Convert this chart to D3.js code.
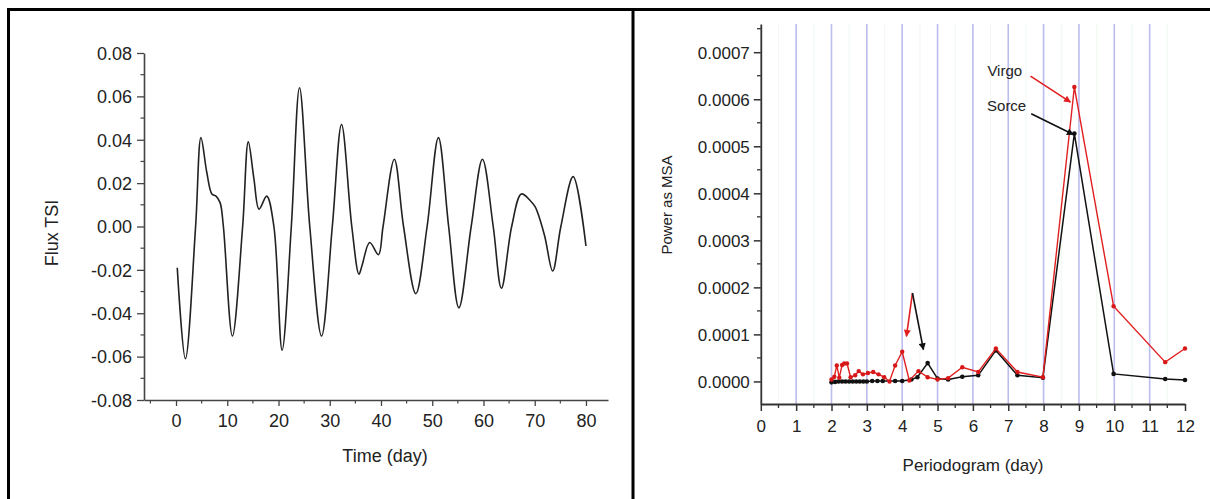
<!DOCTYPE html>
<html><head><meta charset="utf-8">
<script src="https://cdn.jsdelivr.net/npm/d3@7"></script>
<style>
body{margin:0;background:#fff;}
text{font-family:"Liberation Sans",Arial,sans-serif;fill:#222;}
</style></head>
<body>
<svg id="c" width="1210" height="499"></svg>
<script>
// ---- Left panel data: Flux TSI vs Time (day)
const timeDays = [0.24,1.83,3.82,4.86,6.0,7.0,7.8,8.6,9.24,11.0,13.0,14.1,15.2,16.2,17.7,19.1,20.7,22.5,24.1,26.1,28.4,30.5,32.3,34.3,35.7,36.3,37.8,39.5,40.4,42.6,44.4,46.8,49.0,51.2,53.2,55.2,57.6,59.8,61.9,63.5,65.5,67.4,69.1,70.1,71.9,73.5,75.1,77.5,80.0];
const fluxTSI  = [-0.019,-0.061,0.0,0.041,0.025,0.015,0.014,0.011,0.0,-0.0505,0.0,0.039,0.022,0.008,0.014,0.0,-0.057,0.0,0.064,0.0,-0.0505,0.0,0.047,0.0,-0.022,-0.018,-0.0074,-0.013,0.0,0.031,0.0,-0.031,0.0,0.041,0.0,-0.0375,0.0,0.031,0.0,-0.0285,0.0,0.015,0.012,0.009,-0.004,-0.0205,0.0,0.023,-0.009];
const leftXTicks = [0,10,20,30,40,50,60,70,80];
const leftYTicks = [-0.08,-0.06,-0.04,-0.02,0.0,0.02,0.04,0.06,0.08];

// ---- Right panel data: periodogram
const sorcePeriod = [2.0,2.1,2.2,2.3,2.4,2.5,2.6,2.7,2.8,2.9,3.0,3.15,3.3,3.45,3.8,4.0,4.26,4.43,4.72,5.0,5.3,5.7,6.15,6.65,7.26,7.98,8.87,9.98,11.44,12.0];
const sorcePower  = [-0.000002,-0.000001,0,0,0,0,0,0,0,0,0,0.000001,0.000001,0.000001,0.000001,0.000001,0.000004,0.000009,0.000039,0.000006,0.000004,0.00001,0.000013,0.000066,0.000013,0.000008,0.000527,0.000016,0.000005,0.000003];
const virgoPeriod = [2.0,2.08,2.15,2.22,2.3,2.36,2.44,2.54,2.67,2.77,2.89,3.03,3.18,3.33,3.49,3.64,3.8,4.0,4.2,4.46,4.72,5.0,5.3,5.7,6.15,6.65,7.26,7.98,8.87,9.98,11.44,12.0];
const virgoPower  = [0.000004,0.00001,0.000034,0.000008,0.000035,0.000038,0.000038,0.000009,0.000013,0.000022,0.000015,0.000018,0.00002,0.000015,0.000009,0.0,0.000034,0.000063,0.000002,0.000022,0.000009,0.000004,0.000007,0.00003,0.00002,0.00007,0.00002,0.000009,0.000626,0.00016,0.000041,0.00007];
const rightXTicks = [0,1,2,3,4,5,6,7,8,9,10,11,12];
const rightYTicks = [0,0.0001,0.0002,0.0003,0.0004,0.0005,0.0006,0.0007];
const gridMajor = [1,2,3,4,5,6,7,8,9,10,11];
const gridMinor = [0.5,1.5,2.5,3.5,4.5,5.5,6.5,7.5,8.5,9.5,10.5,11.5];

// annotations (data coordinates)
const labelNames = ["Virgo","Sorce"];
const labelPos = [[6.41,0.00065],[6.40,0.000575]];
const arrowFrom = [[7.63,0.000649],[7.65,0.000569],[4.29,0.000188],[4.29,0.000188]];
const arrowTo   = [[8.76,0.000594],[8.84,0.000525],[4.12,0.000096],[4.60,0.0000675]];
const arrowColor = ["#e02020","#111","#e02020","#111"];

const svg = d3.select("#c");
const fmtMinus = f => v => f(v).replace("\u2212","-");

// outer frame
svg.append("line").attr("x1",8).attr("x2",1210).attr("y1",9.5).attr("y2",9.5).attr("stroke","#000").attr("stroke-width",3);
svg.append("line").attr("x1",8.5).attr("x2",8.5).attr("y1",8).attr("y2",499).attr("stroke","#000").attr("stroke-width",3);
svg.append("line").attr("x1",633).attr("x2",633).attr("y1",8).attr("y2",499).attr("stroke","#000").attr("stroke-width",3);

// ================= LEFT =================
const lx = d3.scaleLinear().domain([-6.25,84.3]).range([144,608]);
const ly = d3.scaleLinear().domain([-0.08,0.08]).range([400,53]);
const L = svg.append("g");

const lxMinor = d3.range(-5,85,10);
L.selectAll(".lxm").data(lxMinor).join("line").attr("x1",d=>lx(d)).attr("x2",d=>lx(d)).attr("y1",400).attr("y2",403.5).attr("stroke","#444").attr("stroke-width",1.2);
const lyMinor = d3.range(-0.07,0.08,0.02);
L.selectAll(".lym").data(lyMinor).join("line").attr("x1",144).attr("x2",140.5).attr("y1",d=>ly(d)).attr("y2",d=>ly(d)).attr("stroke","#444").attr("stroke-width",1.2);

const lxAxis = L.append("g").attr("transform","translate(0,400)")
  .call(d3.axisBottom(lx).tickValues(leftXTicks).tickSize(6).tickSizeOuter(0).tickPadding(8));
const lyAxis = L.append("g").attr("transform","translate(144,0)")
  .call(d3.axisLeft(ly).tickValues(leftYTicks).tickFormat(fmtMinus(d3.format(".2f"))).tickSize(7).tickSizeOuter(0).tickPadding(5));
[lxAxis,lyAxis].forEach(a=>{
  a.select(".domain").attr("stroke","#444").attr("stroke-width",1.6);
  a.selectAll(".tick line").attr("stroke","#444").attr("stroke-width",1.3);
  a.selectAll(".tick text").attr("font-size",18).attr("font-family","Liberation Sans").attr("fill","#222");
});
lyAxis.selectAll(".tick text").attr("dy","0.35em");

L.append("path").datum(timeDays.map((t,i)=>[t,fluxTSI[i]]))
  .attr("fill","none").attr("stroke","#222").attr("stroke-width",1.6)
  .attr("d",d3.line().x(d=>lx(d[0])).y(d=>ly(d[1])).curve(d3.curveCatmullRom.alpha(0.5)));

L.append("text").attr("x",385).attr("y",462).attr("text-anchor","middle").attr("font-size",18).text("Time (day)");
L.append("text").attr("transform","translate(58,233) rotate(-90)").attr("text-anchor","middle").attr("font-size",18).text("Flux TSI");

// ================= RIGHT =================
const rx = d3.scaleLinear().domain([0,12]).range([760.8,1185]);
const ry = d3.scaleLinear().domain([-0.000048,0.00076]).range([404,24]);
const R = svg.append("g");

R.selectAll(".gmin").data(gridMinor).join("line").attr("x1",d=>rx(d)).attr("x2",d=>rx(d)).attr("y1",24).attr("y2",404).attr("stroke","#f1f9f1").attr("stroke-width",1.2);
R.selectAll(".gmaj").data(gridMajor).join("line").attr("x1",d=>rx(d)).attr("x2",d=>rx(d)).attr("y1",24).attr("y2",404).attr("stroke","#bcbcee").attr("stroke-width",1.6);

const rxMinor = d3.range(0.5,12,1);
R.selectAll(".rxm").data(rxMinor).join("line").attr("x1",d=>rx(d)).attr("x2",d=>rx(d)).attr("y1",404).attr("y2",408).attr("stroke","#333").attr("stroke-width",1.3);
const ryMinor = d3.range(0.00005,0.0008,0.0001);
R.selectAll(".rym").data(ryMinor).join("line").attr("x1",760.8).attr("x2",757).attr("y1",d=>ry(d)).attr("y2",d=>ry(d)).attr("stroke","#333").attr("stroke-width",1.3);

const rxAxis = R.append("g").attr("transform","translate(0,404)")
  .call(d3.axisBottom(rx).tickValues(rightXTicks).tickSize(7).tickSizeOuter(0).tickPadding(9));
const ryAxis = R.append("g").attr("transform","translate(760.8,0)")
  .call(d3.axisLeft(ry).tickValues(rightYTicks).tickFormat(d3.format(".4f")).tickSize(7).tickSizeOuter(0).tickPadding(4));
[rxAxis,ryAxis].forEach(a=>{
  a.select(".domain").attr("stroke","#333").attr("stroke-width",1.8);
  a.selectAll(".tick line").attr("stroke","#333").attr("stroke-width",1.5);
  a.selectAll(".tick text").attr("font-size",17).attr("font-family","Liberation Sans").attr("fill","#222");
});
ryAxis.selectAll(".tick text").attr("dy","0.35em");

const rline = d3.line().x(d=>rx(d[0])).y(d=>ry(d[1]));
const sorce = sorcePeriod.map((p,i)=>[p,sorcePower[i]]);
const virgo = virgoPeriod.map((p,i)=>[p,virgoPower[i]]);
R.append("path").datum(sorce).attr("fill","none").attr("stroke","#111").attr("stroke-width",1.5).attr("d",rline);
R.selectAll(".sp").data(sorce).join("circle").attr("cx",d=>rx(d[0])).attr("cy",d=>ry(d[1])).attr("r",2.3).attr("fill","#111");
R.append("path").datum(virgo).attr("fill","none").attr("stroke","#e02020").attr("stroke-width",1.4).attr("d",rline);
R.selectAll(".vp").data(virgo).join("circle").attr("cx",d=>rx(d[0])).attr("cy",d=>ry(d[1])).attr("r",2.2).attr("fill","#d81818");

// arrows
const defs = svg.append("defs");
arrowColor.forEach((c,i)=>{
  defs.append("marker").attr("id","ah"+i).attr("viewBox","0 0 10 10").attr("refX",9).attr("refY",5)
    .attr("markerWidth",9).attr("markerHeight",7).attr("markerUnits","userSpaceOnUse").attr("orient","auto")
    .append("path").attr("d","M0,0 L10,5 L0,10 z").attr("fill",c);
});
arrowFrom.forEach((f,i)=>{
  R.append("line").attr("x1",rx(f[0])).attr("y1",ry(f[1])).attr("x2",rx(arrowTo[i][0])).attr("y2",ry(arrowTo[i][1]))
    .attr("stroke",arrowColor[i]).attr("stroke-width",1.6).attr("marker-end","url(#ah"+i+")");
});
labelNames.forEach((n,i)=>{
  R.append("text").attr("x",rx(labelPos[i][0])).attr("y",ry(labelPos[i][1])).attr("font-size",15).attr("fill","#111").text(n);
});

R.append("text").attr("x",973).attr("y",471).attr("text-anchor","middle").attr("font-size",17).text("Periodogram (day)");
R.append("text").attr("transform","translate(672,205) rotate(-90)").attr("text-anchor","middle").attr("font-size",15).text("Power as MSA");
</script>
</body></html>
